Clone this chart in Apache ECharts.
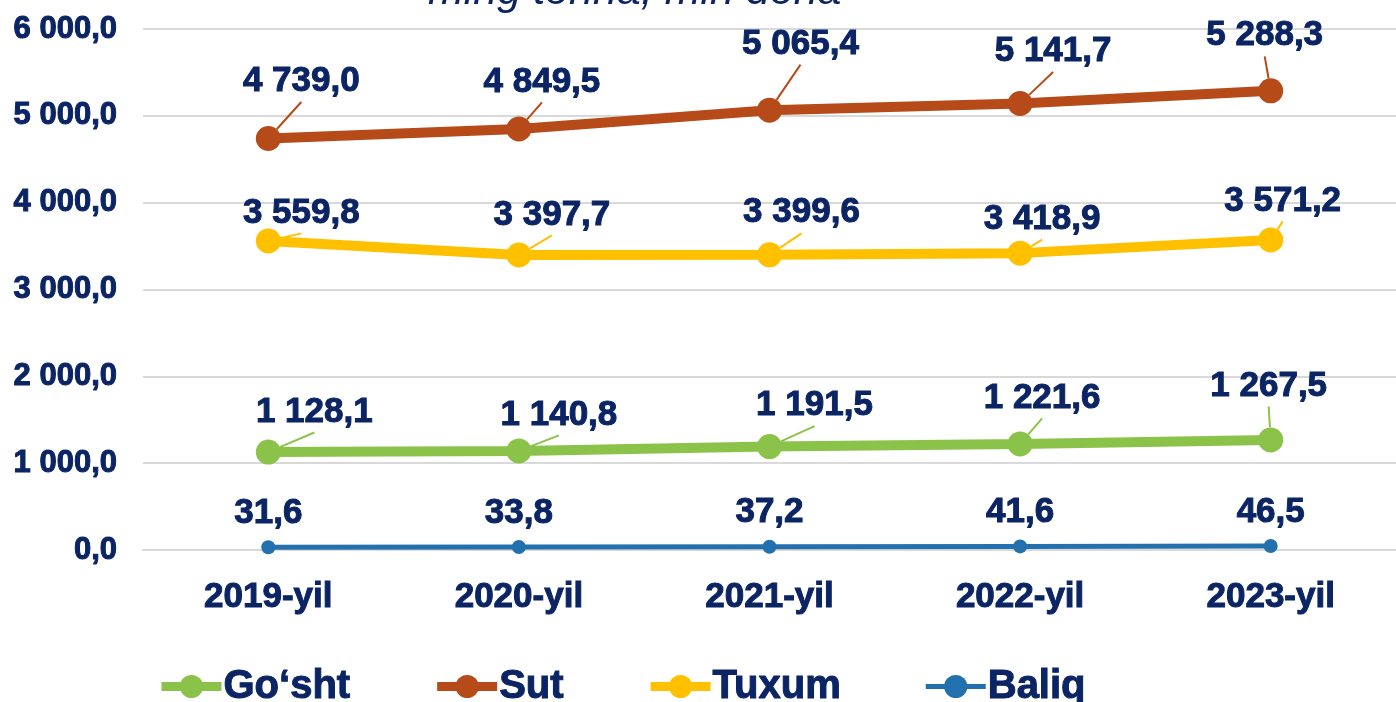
<!DOCTYPE html>
<html>
<head>
<meta charset="utf-8">
<script src="https://cdn.jsdelivr.net/npm/echarts@6/dist/echarts.min.js"></script>
<style>
    html, body { margin: 0; padding: 0; background: #fff; }
    #chart { width: 1396px; height: 702px; }
</style>
</head>
<body>
<div id="chart"></div>
<script>
// data
const years = ["2019-yil", "2020-yil", "2021-yil", "2022-yil", "2023-yil"];
const goshtData = [1128.1, 1140.8, 1191.5, 1221.6, 1267.5];
const sutData = [4739.0, 4849.5, 5065.4, 5141.7, 5288.3];
const tuxumData = [3559.8, 3397.7, 3399.6, 3418.9, 3571.2];
const baliqData = [31.6, 33.8, 37.2, 41.6, 46.5];
const yTicks = { min: 0, max: 6000, interval: 1000 };

// label offsets (label centre relative to point)
const labelShift = [
    [[46, -43], [40, -39], [45, -44], [22, -49], [-2, -57]],
    [[33, -60], [23, -50], [31, -69], [33, -55], [-6, -58]],
    [[33, -31], [33, -43], [32, -45], [22, -37], [12, -42]],
    [[0, -37], [0, -37], [0, -37], [0, -37], [0, -37]],
];

const navy = "#0b2463";
const font = "'Liberation Sans', Arial, sans-serif";
// extra room below the text so the guide line stops short of it,
// wide side padding so the guide always leaves from the bottom
const padB = 6;
const padSide = 45;

// 4 739,0 style
const fmt = (v) => {
    const parts = Number(v).toFixed(1).split(".");
    return parts[0].replace(/\B(?=(\d{3})+(?!\d))/g, " ") + "," + parts[1];
};

// bold text a bit heavier
const heavy = (size) => ({
    color: navy,
    fontFamily: font,
    fontWeight: "bold",
    fontSize: size,
    textBorderColor: navy,
    textBorderWidth: 1,
});

const makeSeries = (name, data, color, width, size, idx, guide) => ({
    name: name,
    type: "line",
    data: data,
    symbol: "circle",
    symbolSize: size,
    itemStyle: { color: color },
    lineStyle: { color: color, width: width },
    label: Object.assign(
        {
            show: true,
            position: "inside",
            padding: [0, padSide, padB, padSide],
            backgroundColor: "rgba(255,255,255,0)",
            formatter: (p) => fmt(p.value),
        },
        heavy(35)
    ),
    labelLine: {
        show: guide,
        lineStyle: { color: color, width: 2 },
    },
    labelLayout: (p) => ({
        dx: labelShift[idx][p.dataIndex][0],
        dy: labelShift[idx][p.dataIndex][1] + padB / 2,
    }),
    emphasis: { disabled: true },
    animation: false,
});

const chart = echarts.init(document.getElementById("chart"));

const option = {
    backgroundColor: "#fff",
    animation: false,
    title: {
        text: "ming tonna, mln dona",
        left: 423,
        top: -34,
        textStyle: {
            color: navy,
            fontFamily: font,
            fontStyle: "italic",
            fontWeight: "normal",
            fontSize: 43,
        },
    },
    legend: {
        left: 157,
        top: 666,
        padding: 0,
        itemWidth: 60,
        itemHeight: 29,
        itemGap: 82,
        data: [
            { name: "Go‘sht", lineStyle: { width: 9 } },
            { name: "Sut", lineStyle: { width: 9 } },
            { name: "Tuxum", lineStyle: { width: 9 } },
            { name: "Baliq", lineStyle: { width: 5 } },
        ],
        textStyle: Object.assign(heavy(40), { padding: [0, 0, 0, -3] }),
    },
    grid: { left: 143, right: -7, top: 29, bottom: 152, containLabel: false },
    xAxis: {
        type: "category",
        data: years,
        boundaryGap: true,
        axisLine: { show: true, lineStyle: { color: "#d9d9d9", width: 2 } },
        axisTick: { show: false },
        axisLabel: Object.assign(heavy(35), { margin: 30 }),
    },
    yAxis: {
        type: "value",
        min: yTicks.min,
        max: yTicks.max,
        interval: yTicks.interval,
        axisLine: { show: false },
        axisTick: { show: false },
        splitLine: { lineStyle: { color: "#d9d9d9", width: 2 } },
        axisLabel: Object.assign(heavy(31), {
            margin: 26,
            formatter: (v) => fmt(v),
        }),
    },
    series: [
        makeSeries("Go‘sht", goshtData, "#8bc34a", 10, 25, 0, true),
        makeSeries("Sut", sutData, "#b64a19", 10, 25, 1, true),
        makeSeries("Tuxum", tuxumData, "#ffc000", 10, 25, 2, true),
        makeSeries("Baliq", baliqData, "#2271ae", 5, 14, 3, false),
    ],
};

chart.setOption(option);
</script>
</body>
</html>
